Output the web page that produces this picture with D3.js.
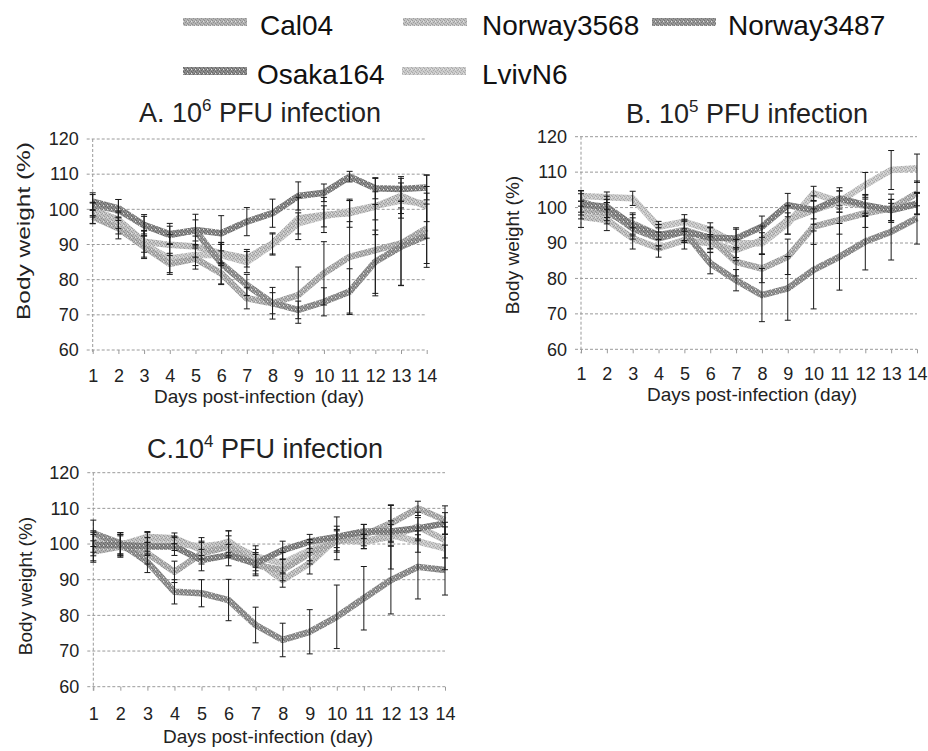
<!DOCTYPE html>
<html>
<head>
<meta charset="utf-8">
<script src="https://cdn.jsdelivr.net/npm/d3@7"></script>
<style>
  body { margin: 0; background: #fff; }
  svg { display: block; font-family: "Liberation Sans", Arial, sans-serif; }
</style>
</head>
<body>
<svg id="chart" width="928" height="751"></svg>
<script>
const days = [1, 2, 3, 4, 5, 6, 7, 8, 9, 10, 11, 12, 13, 14];
const yTicks = [60, 70, 80, 90, 100, 110, 120];
const strains = ["Cal04", "Norway3568", "Norway3487", "Osaka164", "LvivN6"];

// A. 10^6 PFU
const A_Cal04      = [97.9, 94.6, 89.4, 84.5, 86, 81.8, 74.7, 73.3, 75.6, 81.8, 86.5, 88.4, 90.3, 94.6];
const A_Norway3568 = [99.8, 97, 90.8, 89.9, 89.4, 87.5, 86.1, 90.3, 97.4, 98.4, 98.9, 100.8, 103.8, 100.8];
const A_Norway3487 = [101.2, 99.8, 95.5, 93, 94, 84.6, 78.5, 73.3, 71.4, 73.7, 76.6, 85.1, 89.4, 92.5];
const A_Osaka164   = [102.2, 100.3, 95.5, 92.7, 94.1, 93.2, 96.5, 98.9, 103.8, 104.7, 109.3, 106, 105.8, 106.2];
const A_LvivN6     = [99, 96, 90, 86, 87, 87, 85, 90, 96, 98, 99.5, 101, 102.5, 101.5];
const A_Cal04_sd      = [2, 3, 3, 3, 3, 3, 3, 3, 8, 9, 16, 13, 12, 10];
const A_Norway3568_sd = [2, 2.5, 3, 3, 3, 3, 2.5, 3, 6, 5, 4, 8, 5, 9];
const A_Norway3487_sd = [3, 3, 3, 3, 3, 6, 3, 4.5, 2.5, 4, 6.5, 9, 11, 9];
const A_Osaka164_sd   = [2.5, 2.5, 2.5, 2.5, 4.5, 5, 4, 4, 4, 2.5, 1.5, 3, 3.5, 3.5];
const A_LvivN6_sd     = [3, 3, 4, 4, 3, 3, 3, 3, 3, 3, 3, 4, 5, 5];

// B. 10^5 PFU
const B_Cal04      = [99.3, 98.4, 95.5, 92.2, 93.7, 91.3, 84.7, 82.8, 86.1, 94.6, 96.5, 98.4, 99.8, 104];
const B_Norway3568 = [97.4, 96.5, 91.3, 88.5, 90.8, 89.9, 88, 90.8, 96.5, 99.3, 101.7, 100.5, 99.3, 101.2];
const B_Norway3487 = [101.7, 99.3, 94.1, 91.3, 93.2, 84.3, 79.5, 75.3, 77.2, 82.4, 86.1, 90.4, 93.2, 97];
const B_Osaka164   = [100.9, 100.2, 95, 92.2, 93.2, 91.5, 91.3, 94.6, 100.7, 99.3, 102.6, 100.7, 99.3, 101];
const B_LvivN6     = [103.3, 102.9, 102.6, 94.6, 96, 93.7, 89.9, 89.9, 95.5, 104, 101.7, 106.4, 110.6, 111.1];
const B_Cal04_sd      = [2.5, 3, 3, 3, 3, 3, 4, 4, 5, 5, 4, 4, 4, 3.5];
const B_Norway3568_sd = [3, 3, 3, 2.5, 2.5, 2.5, 3, 4, 4, 4, 3, 3, 3, 3];
const B_Norway3487_sd = [3, 3, 3, 3, 3, 3, 3, 7.5, 9, 11, 9.4, 8, 8, 7.3];
const B_Osaka164_sd   = [3, 3, 3, 3, 3, 3, 3, 3, 3.3, 2.5, 3, 3, 3, 3];
const B_LvivN6_sd     = [1.5, 1.5, 2, 1.5, 2, 2, 4, 3, 3, 2, 3, 3.5, 5.5, 4];

// C. 10^4 PFU
const C_Cal04      = [97.9, 99.3, 97.4, 92.2, 97.4, 99.3, 94.1, 92.7, 97.4, 100.7, 102.5, 105.8, 110, 106.7];
const C_Norway3568 = [100.7, 99.7, 102, 101.6, 98.3, 100.7, 95.5, 89.9, 94.6, 101.6, 100.7, 102, 104.9, 101.1];
const C_Norway3487 = [103, 100.2, 95, 86.6, 86.2, 84.3, 77.3, 73.1, 75.4, 79.6, 84.8, 89.9, 93.6, 92.7];
const C_Osaka164   = [99.7, 99.7, 99.3, 99.3, 95.5, 96.9, 94.6, 98.3, 100.7, 102, 103.5, 103.5, 104.4, 105.8];
const C_LvivN6     = [99.3, 100.2, 100.2, 100.2, 99.3, 100.2, 96.5, 94.6, 98.3, 101.1, 100.7, 102.5, 100.7, 98.8];
const C_Cal04_sd      = [3, 3, 3, 3, 3, 3, 3, 3, 3, 3, 3, 5, 2, 4];
const C_Norway3568_sd = [3, 3, 1.5, 1.5, 2.5, 3, 3, 2, 3, 6, 2, 9, 4, 5];
const C_Norway3487_sd = [3.7, 3, 3, 3.4, 3.8, 5.8, 5, 4.7, 6.2, 8.9, 8.9, 9.5, 9, 7];
const C_Osaka164_sd   = [3, 3, 2.5, 2.5, 3, 3, 3, 2.5, 2, 3, 2, 3, 3, 3];
const C_LvivN6_sd     = [4, 3, 3, 2, 2.5, 3.5, 3, 3, 3, 3, 2, 3, 3, 6];

// grey tones (base, speckle) per strain, the original is a grainy greyscale print
const tones = {
  Cal04:      ["#b3b3b3", "#8f8f8f"],
  Norway3568: ["#c3c3c3", "#9c9c9c"],
  Norway3487: ["#979797", "#747474"],
  Osaka164:   ["#8b8b8b", "#666666"],
  LvivN6:     ["#cbcbcb", "#a9a9a9"]
};
const drawOrder = ["LvivN6", "Norway3568", "Cal04", "Norway3487", "Osaka164"];

const panels = [
  {
    letter: "A.", exp: "6", gap: " ",
    means: { Cal04: A_Cal04, Norway3568: A_Norway3568, Norway3487: A_Norway3487, Osaka164: A_Osaka164, LvivN6: A_LvivN6 },
    sds: { Cal04: A_Cal04_sd, Norway3568: A_Norway3568_sd, Norway3487: A_Norway3487_sd, Osaka164: A_Osaka164_sd, LvivN6: A_LvivN6_sd },
    x0: 92.7, x1: 426.7, yTop: 139, yBot: 350,
    titleX: 260, titleY: 122, ylabX: 23, ylabY: 231, ylabLen: 178, xtickY: 382, xlabX: 259, xlabY: 403
  },
  {
    letter: "B.", exp: "5", gap: " ",
    means: { Cal04: B_Cal04, Norway3568: B_Norway3568, Norway3487: B_Norway3487, Osaka164: B_Osaka164, LvivN6: B_LvivN6 },
    sds: { Cal04: B_Cal04_sd, Norway3568: B_Norway3568_sd, Norway3487: B_Norway3487_sd, Osaka164: B_Osaka164_sd, LvivN6: B_LvivN6_sd },
    x0: 581, x1: 917, yTop: 136.7, yBot: 349.3,
    titleX: 747, titleY: 123, ylabX: 512, ylabY: 245, ylabLen: null, xtickY: 380, xlabX: 752, xlabY: 401
  },
  {
    letter: "C.", exp: "4", gap: "",
    means: { Cal04: C_Cal04, Norway3568: C_Norway3568, Norway3487: C_Norway3487, Osaka164: C_Osaka164, LvivN6: C_LvivN6 },
    sds: { Cal04: C_Cal04_sd, Norway3568: C_Norway3568_sd, Norway3487: C_Norway3487_sd, Osaka164: C_Osaka164_sd, LvivN6: C_LvivN6_sd },
    x0: 93.3, x1: 445, yTop: 472.7, yBot: 686.7,
    titleX: 265, titleY: 458, ylabX: 25, ylabY: 586, ylabLen: null, xtickY: 720, xlabX: 268, xlabY: 743
  }
];

const svg = d3.select("#chart");
const defs = svg.append("defs");

strains.forEach(s => {
  const [base, dot] = tones[s];
  const p = defs.append("pattern")
    .attr("id", "tex-" + s)
    .attr("patternUnits", "userSpaceOnUse")
    .attr("width", 4).attr("height", 4);
  p.append("rect").attr("width", 4).attr("height", 4).attr("fill", base);
  [[0, 0], [2, 1], [1, 2], [3, 3]].forEach(([x, y]) => {
    p.append("rect").attr("x", x).attr("y", y).attr("width", 1).attr("height", 1).attr("fill", dot);
  });
  p.append("rect").attr("x", 3).attr("y", 1).attr("width", 1).attr("height", 1).attr("fill", "#e4e4e4");
});

// legend
const legendItems = [
  { name: "Cal04", x: 183, y: 22, tx: 260, ty: 35 },
  { name: "Norway3568", x: 403, y: 22, tx: 482, ty: 35 },
  { name: "Norway3487", x: 652, y: 22, tx: 728, ty: 35 },
  { name: "Osaka164", x: 183, y: 71, tx: 257, ty: 84 },
  { name: "LvivN6", x: 402, y: 71, tx: 482, ty: 84 }
];
const legend = svg.append("g").attr("class", "legend");
legendItems.forEach(d => {
  legend.append("line")
    .attr("x1", d.x).attr("x2", d.x + 64)
    .attr("y1", d.y).attr("y2", d.y)
    .attr("stroke", `url(#tex-${d.name})`)
    .attr("stroke-width", 8);
  legend.append("text")
    .attr("x", d.tx).attr("y", d.ty)
    .attr("font-size", 28).attr("fill", "#111")
    .text(d.name);
});

panels.forEach(cfg => {
  const g = svg.append("g");
  const x = d3.scaleLinear().domain([1, 14]).range([cfg.x0, cfg.x1]);
  const y = d3.scaleLinear().domain([60, 120]).range([cfg.yBot, cfg.yTop]);

  // title with superscript exponent
  const title = g.append("text")
    .attr("x", cfg.titleX).attr("y", cfg.titleY)
    .attr("text-anchor", "middle")
    .attr("font-size", 27).attr("fill", "#222");
  title.append("tspan").text(cfg.letter + cfg.gap + "10");
  title.append("tspan").attr("font-size", 17).attr("dy", -11).text(cfg.exp);
  title.append("tspan").attr("dy", 11).text(" PFU infection");

  // horizontal gridlines
  g.append("g").selectAll("line")
    .data(yTicks)
    .join("line")
    .attr("x1", cfg.x0 - 6).attr("x2", cfg.x1)
    .attr("y1", d => y(d)).attr("y2", d => y(d))
    .attr("stroke", "#9a9a9a")
    .attr("stroke-width", 1)
    .attr("stroke-dasharray", "3,2");

  // left axis line
  g.append("line")
    .attr("x1", cfg.x0).attr("x2", cfg.x0)
    .attr("y1", cfg.yTop).attr("y2", cfg.yBot + 4)
    .attr("stroke", "#9a9a9a")
    .attr("stroke-dasharray", "3,2");

  // y tick labels
  const yAxis = d3.axisLeft(y).tickValues(yTicks).tickSize(0).tickPadding(14);
  g.append("g")
    .attr("transform", `translate(${cfg.x0},0)`)
    .call(yAxis)
    .call(a => a.select(".domain").remove())
    .call(a => a.selectAll("text")
      .attr("font-size", 18)
      .attr("font-family", "Liberation Sans, Arial, sans-serif")
      .attr("fill", "#222"));

  // x ticks and labels
  const xAxis = d3.axisBottom(x).tickValues(days).tickSize(4).tickPadding(0).tickFormat(d3.format("d"));
  const xa = g.append("g")
    .attr("transform", `translate(0,${cfg.yBot})`)
    .call(xAxis)
    .call(a => a.select(".domain").remove());
  xa.selectAll("line").attr("stroke", "#9a9a9a");
  xa.selectAll("text")
    .attr("y", cfg.xtickY - cfg.yBot)
    .attr("dy", null)
    .attr("font-size", 18)
    .attr("font-family", "Liberation Sans, Arial, sans-serif")
    .attr("fill", "#222");

  // axis titles
  g.append("text")
    .attr("x", cfg.xlabX).attr("y", cfg.xlabY)
    .attr("text-anchor", "middle")
    .attr("font-size", 19).attr("fill", "#222")
    .text("Days post-infection (day)");

  const yl = g.append("text")
    .attr("transform", `translate(${cfg.ylabX},${cfg.ylabY}) rotate(-90)`)
    .attr("text-anchor", "middle")
    .attr("dominant-baseline", "central")
    .attr("font-size", 19).attr("fill", "#222")
    .text("Body weight (%)");
  if (cfg.ylabLen) yl.attr("textLength", cfg.ylabLen).attr("lengthAdjust", "spacingAndGlyphs");

  // series lines
  const line = d3.line()
    .x((d, i) => x(days[i]))
    .y(d => y(d));

  g.append("g").selectAll("path")
    .data(drawOrder)
    .join("path")
    .attr("d", s => line(cfg.means[s]))
    .attr("fill", "none")
    .attr("stroke", s => `url(#tex-${s})`)
    .attr("stroke-width", 6.5)
    .attr("stroke-linejoin", "round")
    .attr("stroke-linecap", "butt");

  // error bars
  const bars = [];
  drawOrder.forEach(s => {
    cfg.means[s].forEach((m, i) => {
      bars.push({ day: days[i], lo: m - cfg.sds[s][i], hi: m + cfg.sds[s][i] });
    });
  });
  const eb = g.append("g").attr("stroke", "#1a1a1a").attr("stroke-width", 1);
  eb.selectAll("line.v")
    .data(bars)
    .join("line")
    .attr("class", "v")
    .attr("x1", d => x(d.day)).attr("x2", d => x(d.day))
    .attr("y1", d => y(d.lo)).attr("y2", d => y(d.hi));
  eb.selectAll("line.cap")
    .data(bars.flatMap(d => [{ day: d.day, v: d.lo }, { day: d.day, v: d.hi }]))
    .join("line")
    .attr("class", "cap")
    .attr("x1", d => x(d.day) - 3).attr("x2", d => x(d.day) + 3)
    .attr("y1", d => y(d.v)).attr("y2", d => y(d.v));
});
</script>
</body>
</html>
